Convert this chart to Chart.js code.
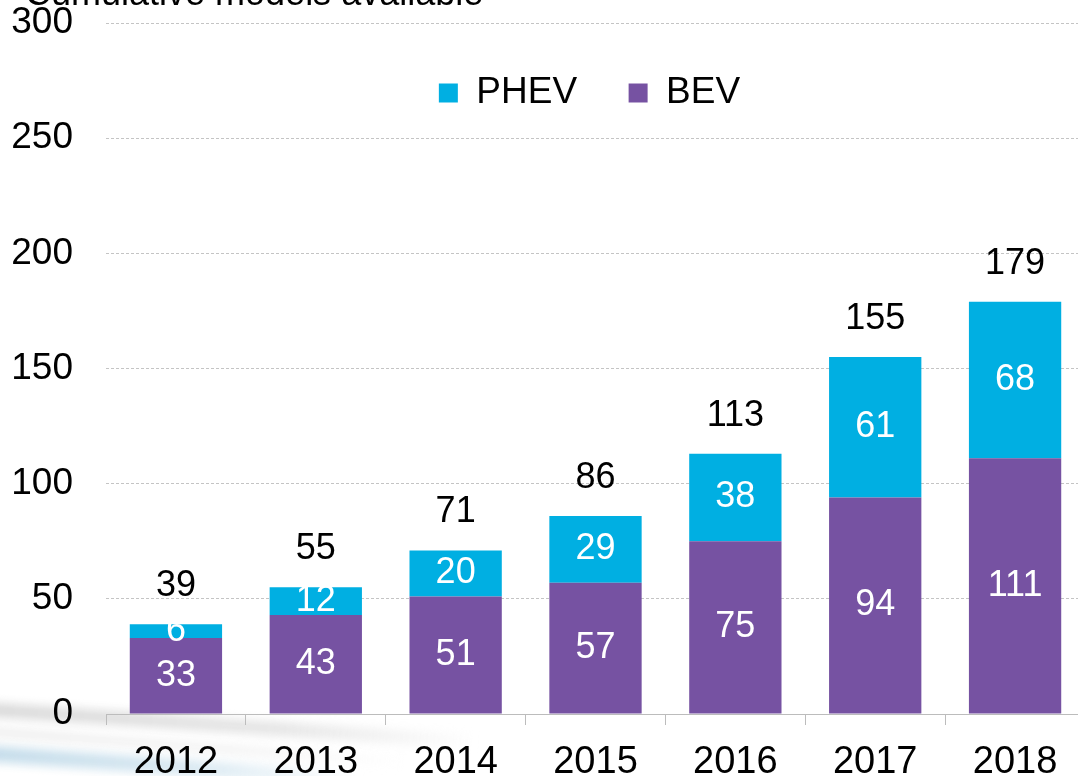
<!DOCTYPE html>
<html>
<head>
<meta charset="utf-8">
<script src="https://cdn.jsdelivr.net/npm/chart.js@4.4.1/dist/chart.umd.min.js"></script>
<style>
  html, body { margin: 0; padding: 0; background: #fff; overflow: hidden; }
  #wrap { position: relative; width: 1085px; height: 776px; overflow: hidden; }
  #title {
    position: absolute; left: 25px; top: -25px;
    font: 36px "Liberation Sans", Arial, sans-serif; line-height: 36px;
    color: #000; white-space: nowrap;
  }
  .swoosh { position: absolute; transform-origin: left center; filter: blur(5px); }
  #s1 { left: -20px; top: 702px; width: 500px; height: 14px; transform: rotate(3.8deg);
        background: linear-gradient(90deg, #d9d9d9, #e6e6e6 60%, rgba(255,255,255,0)); }
  #s2 { left: -20px; top: 727px; width: 430px; height: 8px; transform: rotate(4.2deg);
        background: linear-gradient(90deg, #ebebeb, #f2f2f2 60%, rgba(255,255,255,0)); }
  #s3 { left: -20px; top: 745px; width: 380px; height: 16px; transform: rotate(4deg);
        background: linear-gradient(90deg, #c4dcea, #d9e9f2 55%, rgba(255,255,255,0)); }
  #chart { position: absolute; left: 0; top: 0; }
</style>
</head>
<body>
<div id="wrap">
  <div class="swoosh" id="s1"></div>
  <div class="swoosh" id="s2"></div>
  <div class="swoosh" id="s3"></div>
  <canvas id="chart" width="1085" height="776"></canvas>
  <div id="title">Cumulative models available</div>
</div>
<script>
const years = ["2012", "2013", "2014", "2015", "2016", "2017", "2018"];
const bev = [33, 43, 51, 57, 75, 94, 111];
const phev = [6, 12, 20, 29, 38, 61, 68];
const yTicks = [0, 50, 100, 150, 200, 250, 300];

const FONT = '"Liberation Sans", Arial, sans-serif';
Chart.defaults.color = "#000";
Chart.defaults.font.family = FONT;

// white values inside the segments, black totals above the stacks
const valueLabels = {
  id: "valueLabels",
  afterDatasetsDraw(chart) {
    const ctx = chart.ctx;
    ctx.save();
    ctx.textAlign = "center";
    ctx.textBaseline = "middle";
    ctx.font = "36px " + FONT;
    ctx.fillStyle = "#fff";
    chart.data.datasets.forEach((ds, di) => {
      chart.getDatasetMeta(di).data.forEach((bar, i) => {
        ctx.fillText(ds.data[i], bar.x, (bar.y + bar.base) / 2);
      });
    });
    ctx.fillStyle = "#000";
    chart.getDatasetMeta(1).data.forEach((bar, i) => {
      ctx.fillText(bev[i] + phev[i], bar.x, bar.y - 38);
    });
    ctx.restore();
  }
};

// legend sits inside the plot: no layout height, but keep its box for drawing
const legendInPlot = {
  id: "legendInPlot",
  beforeLayout(chart) {
    const lg = chart.legend;
    if (lg && !lg._noHeight) {
      const fit = lg.fit;
      lg.fit = function () { fit.call(this); this.height = 0; };
      lg._noHeight = true;
    }
  },
  afterLayout(chart) {
    const lg = chart.legend;
    if (lg) {
      lg.height = 120;
      lg.bottom = lg.top + 120;
      lg.left -= 6;
      lg.right -= 6;
    }
  }
};

new Chart(document.getElementById("chart"), {
  type: "bar",
  data: {
    labels: years,
    datasets: [
      { label: "BEV", data: bev, backgroundColor: "#7652A2" },
      { label: "PHEV", data: phev, backgroundColor: "#00AFE2" }
    ]
  },
  options: {
    responsive: false,
    animation: false,
    layout: { padding: { top: 23, right: 0, left: 0, bottom: 0 } },
    datasets: { bar: { categoryPercentage: 1, barPercentage: 0.66 } },
    plugins: {
      tooltip: { enabled: false },
      legend: {
        position: "top",
        fullSize: false,
        reverse: true,
        labels: {
          boxWidth: 19,
          boxHeight: 19,
          padding: 51.5,
          font: { size: 37 }
        }
      }
    },
    scales: {
      x: {
        stacked: true,
        grid: { drawOnChartArea: false, tickLength: 11, color: "#bcbcbc" },
        border: { color: "#bcbcbc", width: 1 },
        ticks: { font: { size: 38 }, padding: 15 },
        afterFit(scale) { scale.height = 62; }
      },
      y: {
        stacked: true,
        min: 0,
        max: 300,
        afterBuildTicks(scale) { scale.ticks = yTicks.map(v => ({ value: v })); },
        grid: { color: "#c4c4c4", drawTicks: false },
        border: { display: false, dash: [3, 2] },
        ticks: { font: { size: 37 }, padding: 33 },
        afterFit(scale) { scale.width = 106; scale.paddingTop = 0; }
      }
    }
  },
  plugins: [valueLabels, legendInPlot]
});
</script>
</body>
</html>
